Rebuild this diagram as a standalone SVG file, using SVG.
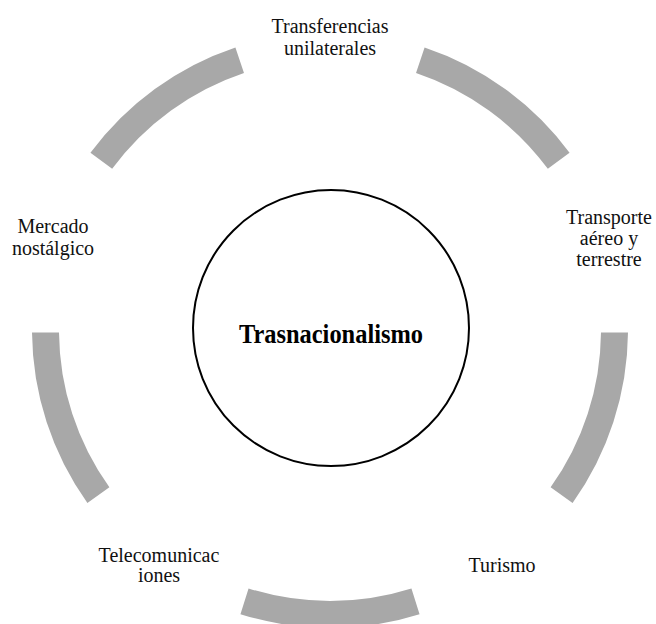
<svg xmlns="http://www.w3.org/2000/svg" width="656" height="624" viewBox="0 0 656 624">
  <style>
    .seg { fill: none; stroke: #a8a8a8; stroke-width: 27; stroke-linecap: butt; }
    .lbl { font-family: "Liberation Serif", "Times New Roman", serif; font-size: 20px; fill: #111; text-anchor: middle; }
    .core { font-family: "Liberation Serif", "Times New Roman", serif; font-size: 28px; font-weight: bold; fill: #000; text-anchor: middle; }
  </style>
  <rect width="656" height="624" fill="#ffffff"/>

  <!-- ring segments between the labels -->
  <g id="connectors">
    <path class="seg" d="M101.3,160.8 A284.5,284.5 0 0 1 239.7,60.2"/>
    <path class="seg" d="M420.3,60.2 A284.5,284.5 0 0 1 558.7,160.8"/>
    <path class="seg" d="M614.5,332.5 A284.5,284.5 0 0 1 561.6,495.2"/>
    <path class="seg" d="M415.5,601.3 A284.5,284.5 0 0 1 244.5,601.3"/>
    <path class="seg" d="M98.4,495.2 A284.5,284.5 0 0 1 45.5,332.5"/>
  </g>

  <g id="center">
    <circle cx="331" cy="328" r="138" fill="#ffffff" stroke="#000" stroke-width="2"/>
    <text class="core" x="331" y="343" textLength="184" lengthAdjust="spacingAndGlyphs">Trasnacionalismo</text>
  </g>

  <g id="transferencias">
    <text class="lbl" x="330" y="33">Transferencias</text>
    <text class="lbl" x="330" y="55">unilaterales</text>
  </g>

  <g id="transporte">
    <text class="lbl" x="609" y="224">Transporte</text>
    <text class="lbl" x="609" y="245">aéreo y</text>
    <text class="lbl" x="609" y="266">terrestre</text>
  </g>

  <g id="turismo">
    <text class="lbl" x="502" y="572">Turismo</text>
  </g>

  <g id="telecomunicaciones">
    <text class="lbl" x="159" y="562">Telecomunicac</text>
    <text class="lbl" x="159" y="582">iones</text>
  </g>

  <g id="mercado">
    <text class="lbl" x="53" y="233">Mercado</text>
    <text class="lbl" x="53" y="255">nostálgico</text>
  </g>
</svg>
